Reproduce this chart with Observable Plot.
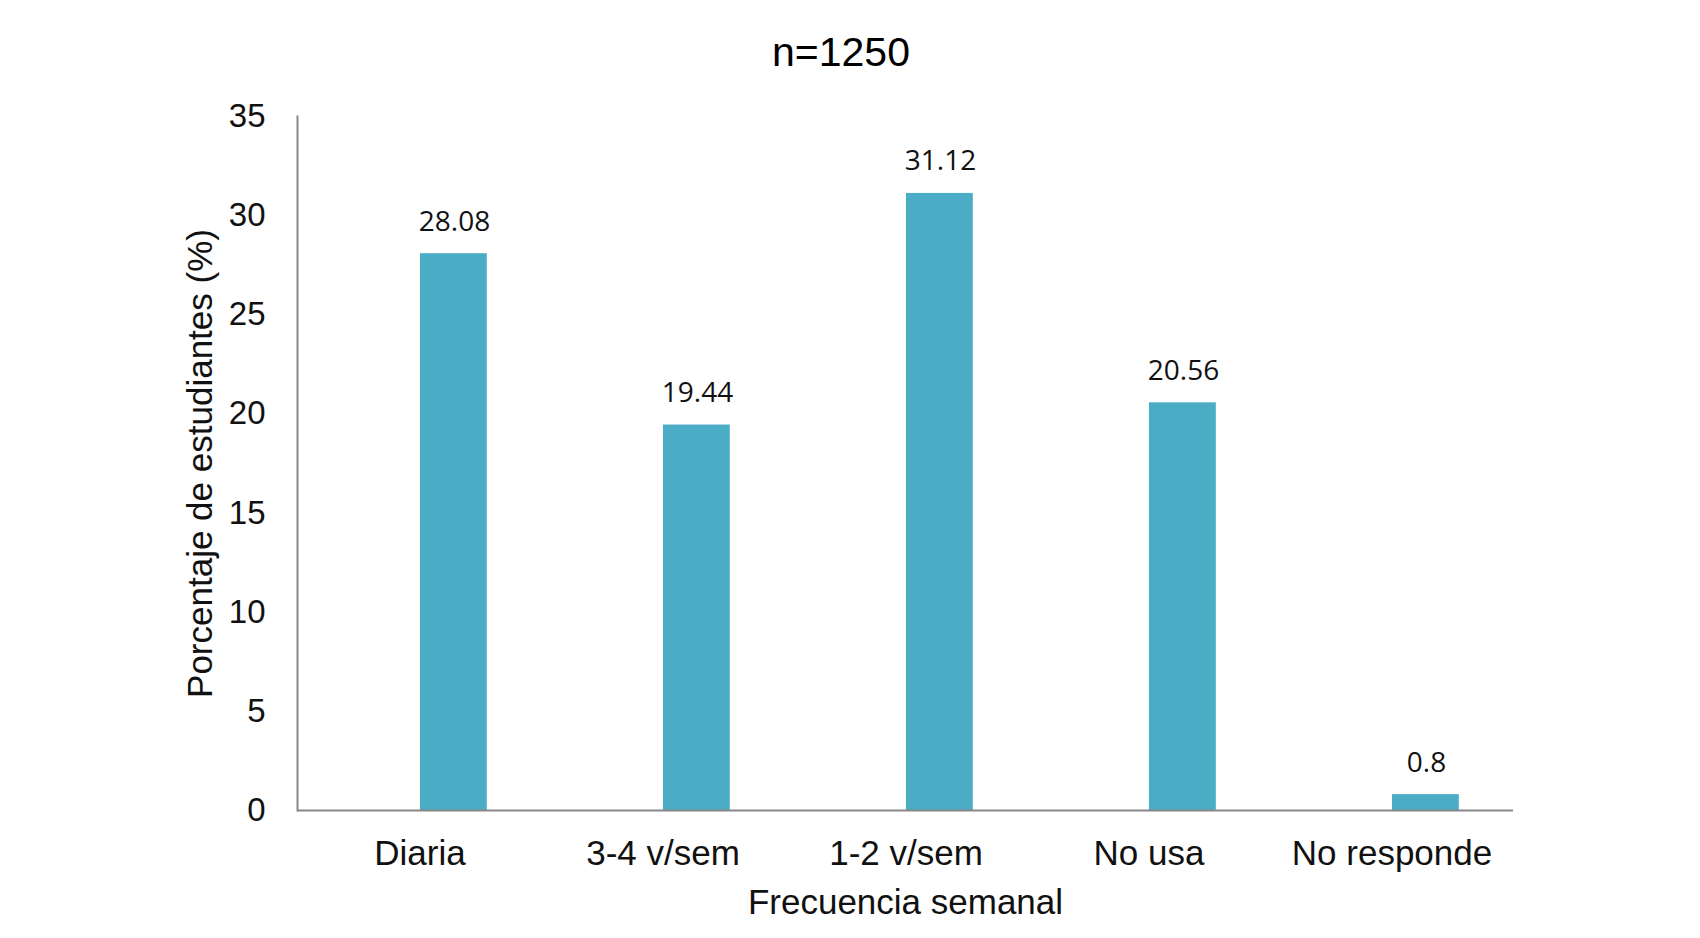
<!DOCTYPE html>
<html>
<head>
<meta charset="utf-8">
<script src="https://cdn.jsdelivr.net/npm/d3@7"></script>
<script src="https://cdn.jsdelivr.net/npm/@observablehq/plot@0.6"></script>
<style>
  html, body { margin: 0; padding: 0; background: #fff; }
  #wrap { position: relative; width: 1700px; height: 938px; }
  #title { position: absolute; left: 0; top: 32px; width: 1682px; text-align: center;
           font-family: "Liberation Sans", Arial, sans-serif; font-size: 41px; line-height: 41px; color: #000; }
  svg { font-family: "Liberation Sans", Arial, sans-serif; }
</style>
</head>
<body>
<div id="wrap">
  <div id="title">n=1250</div>
  <div id="chart"></div>
</div>
<script>
const categories = ["Diaria", "3-4 v/sem", "1-2 v/sem", "No usa", "No responde"];
const values = [28.08, 19.44, 31.12, 20.56, 0.8];
const valueLabels = ["28.08", "19.44", "31.12", "20.56", "0.8"];
const yTicks = [0, 5, 10, 15, 20, 25, 30, 35];
const xLabel = "Frecuencia semanal";
const yLabel = "Porcentaje de estudiantes (%)";

const data = categories.map((c, i) => ({cat: c, value: values[i], label: valueLabels[i]}));

const chart = Plot.plot({
  width: 1700,
  height: 938,
  marginLeft: 297,
  marginRight: 187,
  marginTop: 116,
  marginBottom: 128,
  style: {fontFamily: "'Liberation Sans', Arial, sans-serif", background: "#fff", color: "#111"},
  x: {domain: categories, padding: 0, label: null},
  y: {domain: [0, 35], label: null},
  marks: [
    Plot.axisY({ticks: yTicks, tickSize: 0, tickPadding: 32, fontSize: 33, label: null, tickFormat: d => String(d)}),
    Plot.axisX({tickSize: 0, tickPadding: 30, fontSize: 35, label: null}),
    Plot.barY(data, {x: "cat", y: "value", fill: "#4BACC6", insetLeft: 122, insetRight: 54.2}),
    Plot.text(data, {x: "cat", y: "value", text: "label", dx: 34.5, dy: -23, lineAnchor: "bottom",
      fontSize: 28, fontFamily: "'Open Sans', sans-serif", fill: "#111"}),
    Plot.ruleY([0], {stroke: "#888", strokeWidth: 2}),
    Plot.frame({anchor: "left", stroke: "#888", strokeWidth: 2}),
    Plot.text([yLabel], {frameAnchor: "left", textAnchor: "middle", dx: -97, rotate: -90, fontSize: 35, fill: "#111"}),
    Plot.text([xLabel], {frameAnchor: "bottom", dy: 103, fontSize: 35, fill: "#111"})
  ]
});
document.getElementById("chart").appendChild(chart);
</script>
</body>
</html>
